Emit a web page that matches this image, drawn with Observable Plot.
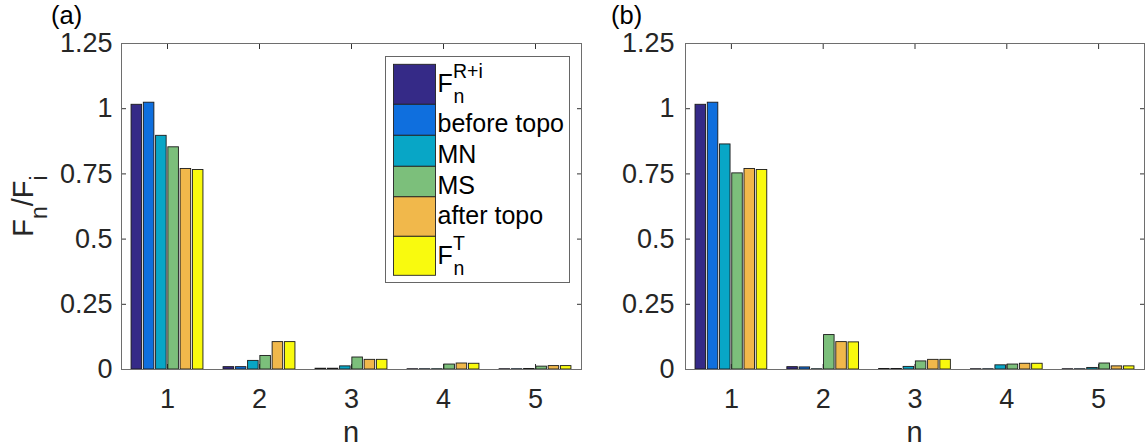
<!DOCTYPE html>
<html><head><meta charset="utf-8">
<script src="https://cdn.jsdelivr.net/npm/d3@7"></script>
<script src="https://cdn.jsdelivr.net/npm/@observablehq/plot@0.6"></script>
<style>
html,body{margin:0;padding:0;background:#fff;}
#wrap{position:relative;width:1145px;height:448px;overflow:hidden;font-family:"Liberation Sans",Arial,Helvetica,sans-serif;}
#wrap svg{position:absolute;top:0;overflow:visible;}
</style></head><body><div id="wrap"></div>
<script>
// ---- data ----
const groups = [1, 2, 3, 4, 5];
const yTicks = [0, 0.25, 0.5, 0.75, 1, 1.25];
const seriesNames = ["F_n^{R+i}", "before topo", "MN", "MS", "after topo", "F_n^T"];
const seriesColors = ["#352a87", "#0f6fde", "#08a6c6", "#7cbf7b", "#f1b84b", "#f9fa0e"];
const panelLabels = ["(a)", "(b)"];

// panel (a)
const aFnRi   = [1.015, 0.009, 0.003, 0.001, 0.001];
const aBefore = [1.023, 0.009, 0.003, 0.001, 0.001];
const aMN     = [0.896, 0.033, 0.012, 0.001, 0.002];
const aMS     = [0.852, 0.052, 0.046, 0.019, 0.011];
const aAfter  = [0.769, 0.105, 0.037, 0.023, 0.013];
const aFnT    = [0.765, 0.105, 0.037, 0.022, 0.013];
// panel (b)
const bFnRi   = [1.015, 0.009, 0.002, 0.001, 0.001];
const bBefore = [1.023, 0.008, 0.002, 0.001, 0.001];
const bMN     = [0.863, 0.001, 0.010, 0.016, 0.006];
const bMS     = [0.752, 0.132, 0.031, 0.019, 0.023];
const bAfter  = [0.769, 0.105, 0.037, 0.022, 0.012];
const bFnT    = [0.765, 0.104, 0.037, 0.022, 0.012];

const panelA = [aFnRi, aBefore, aMN, aMS, aAfter, aFnT];
const panelB = [bFnRi, bBefore, bMN, bMS, bAfter, bFnT];

// ---- drawing ----
const FONT = '"Liberation Sans", Arial, Helvetica, sans-serif';
const TXT = "#262626";
const wrap = document.getElementById("wrap");
const nSeries = seriesNames.length;
const groupWidth = 0.8, slot = groupWidth / nSeries;

function makePanel(arrs, left, width, marginRight, padY) {
  const data = groups.flatMap((n, gi) => seriesNames.map((s, si) => ({n, s, si, v: arrs[si][gi]})));
  const svg = Plot.plot({
    width, height: 448,
    marginLeft: 121, marginRight, marginTop: 43, marginBottom: 79,
    x: {domain: [0.5, 5.5]},
    y: {domain: [0, 1.25]},
    color: {domain: seriesNames, range: seriesColors},
    style: {fontFamily: FONT, color: TXT, background: "transparent", overflow: "visible"},
    marks: [
      Plot.axisX(groups, {anchor: "bottom", tickSize: 0, tickPadding: 19, fontSize: 27, fill: TXT, label: null, tickFormat: d => String(d)}),
      Plot.axisX(groups, {anchor: "bottom", tickSize: -5, stroke: "#333", tickFormat: () => "", label: null}),
      Plot.axisX(groups, {anchor: "top", tickSize: -5, stroke: "#333", tickFormat: () => "", label: null}),
      Plot.axisY(yTicks, {anchor: "left", tickSize: 0, tickPadding: padY, fontSize: 27, fill: TXT, label: null, tickFormat: d => String(d)}),
      Plot.axisY(yTicks, {anchor: "left", tickSize: -5, stroke: "#333", tickFormat: () => "", label: null}),
      Plot.axisY(yTicks, {anchor: "right", tickSize: -5, stroke: "#333", tickFormat: () => "", label: null}),
      Plot.rect(data, {
        x1: d => d.n - groupWidth / 2 + slot * (d.si + 0.07),
        x2: d => d.n - groupWidth / 2 + slot * (d.si + 0.93),
        y1: 0, y2: "v",
        fill: "s", stroke: "#1a1a1a", strokeWidth: 0.9
      }),
      Plot.frame({stroke: "#6e6e6e"})
    ]
  });
  svg.style.left = left + "px";
  wrap.appendChild(svg);
  return svg;
}

const svgA = makePanel(panelA, 0, 600, 19, 9);
const svgB = makePanel(panelB, 564, 581, 1, 11);

// overlay for rich text and legend
const ov = d3.create("svg").attr("width", 1145).attr("height", 448)
  .style("left", "0px").attr("font-family", FONT).attr("fill", TXT);
wrap.appendChild(ov.node());

// panel labels and x labels
[[svgA, 0, 51], [svgB, 564, 611]].forEach(([s, off, lx], i) => {
  ov.append("text").attr("x", lx).attr("y", 23.5).attr("font-size", 25.5).attr("fill", "#000").text(panelLabels[i]);
  const cx = off + s.scale("x").apply(3);
  ov.append("text").attr("x", cx).attr("y", 442).attr("font-size", 29).attr("text-anchor", "middle").text("n");
});

// y label F_n/F_i
const yl = ov.append("text").attr("transform", "translate(33.3,206) rotate(-90)")
  .attr("font-size", 29).attr("text-anchor", "middle");
yl.append("tspan").text("F");
yl.append("tspan").attr("font-size", 23).attr("dy", 14).text("n");
yl.append("tspan").attr("dy", -14).text("/F");
yl.append("tspan").attr("font-size", 23).attr("dy", 14).text("i");

// legend
const lg = ov.append("g");
lg.append("rect").attr("x", 385.5).attr("y", 56.5).attr("width", 184).attr("height", 226)
  .attr("fill", "#fff").attr("stroke", "#666");
const rowH = [40, 31, 31, 30.5, 39.5, 39];
let rowTop = 64.3;
seriesNames.forEach((name, i) => {
  lg.append("rect").attr("x", 393.5).attr("y", rowTop).attr("width", 42).attr("height", rowH[i])
    .attr("fill", seriesColors[i]).attr("stroke", "#222").attr("stroke-width", 0.9);
  const base = rowTop + 27.5;
  const m = name.match(/^(\w)_(\w)\^\{?([^}]*)\}?$/);
  if (m) {
    lg.append("text").attr("x", 437.5).attr("y", base).attr("font-size", 25).attr("fill", "#000").text(m[1]);
    lg.append("text").attr("x", 453).attr("y", base - 13.4).attr("font-size", 19.5).attr("fill", "#000").text(m[3]);
    lg.append("text").attr("x", 453.5).attr("y", base + 11.6).attr("font-size", 19.5).attr("fill", "#000").text(m[2]);
  } else {
    lg.append("text").attr("x", 437.5).attr("y", base).attr("font-size", 25).attr("fill", "#000").text(name);
  }
  rowTop += rowH[i];
});
</script></body></html>
